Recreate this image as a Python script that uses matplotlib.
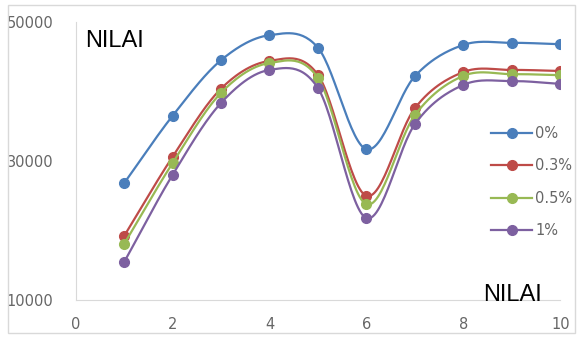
import numpy as np
import matplotlib
matplotlib.use("Agg")
import matplotlib.pyplot as plt
from matplotlib.patches import Rectangle

x = [1, 2, 3, 4, 5, 6, 7, 8, 9, 10]
s0 = [26800, 36500, 44500, 48100, 46300, 31700, 42200, 46700, 47000, 46800]
s03 = [19200, 30600, 40400, 44400, 42400, 25000, 37600, 42800, 43100, 42950]
s05 = [18050, 29700, 39800, 44100, 41950, 23800, 36600, 42250, 42500, 42350]
s1 = [15450, 28000, 38350, 43100, 40500, 21800, 35300, 40950, 41500, 41100]
labels = ["0%", "0.3%", "0.5%", "1%"]
colors = ["#4A7EBB", "#BE4B48", "#98B954", "#7D60A0"]


def smooth(xs, ys, n=30):
    # catmull-rom style smoothing like excel's "smoothed line"
    xs = np.asarray(xs, float)
    ys = np.asarray(ys, float)
    px = np.concatenate([[2 * xs[0] - xs[1]], xs, [2 * xs[-1] - xs[-2]]])
    py = np.concatenate([[2 * ys[0] - ys[1]], ys, [2 * ys[-1] - ys[-2]]])
    ox, oy = [], []
    t = np.linspace(0, 1, n)
    for i in range(1, len(px) - 2):
        for arr, out in ((px, ox), (py, oy)):
            p0, p1, p2, p3 = arr[i - 1], arr[i], arr[i + 1], arr[i + 2]
            out.extend(0.5 * ((2 * p1) + (-p0 + p2) * t
                              + (2 * p0 - 5 * p1 + 4 * p2 - p3) * t ** 2
                              + (-p0 + 3 * p1 - 3 * p2 + p3) * t ** 3))
    return ox, oy


fig = plt.figure(figsize=(5.77, 3.38), dpi=100)
ax = fig.add_axes([0.131, 0.112, 0.84, 0.823])

for ys, lab, c in zip([s0, s03, s05, s1], labels, colors):
    sx, sy = smooth(x, ys)
    ax.plot(sx, sy, color=c, lw=1.6)
    ax.plot(x, ys, "o", color=c, ms=7)
    ax.plot([], [], "-o", color=c, lw=1.6, ms=7, label=lab)

ax.set_xlim(0, 10)
ax.set_ylim(10000, 50000)
ax.set_xticks([0, 2, 4, 6, 8, 10])
ax.set_yticks([10000, 30000, 50000])
for sp in ["top", "right"]:
    ax.spines[sp].set_visible(False)
for sp in ["left", "bottom"]:
    ax.spines[sp].set_color("#D9D9D9")
ax.tick_params(length=0, labelsize=10.5, labelcolor="#666666")
ax.tick_params(axis="x", pad=12)
ax.tick_params(axis="y", pad=16)

fig.text(85 / 577, 1 - 41 / 338, "NILAI", fontsize=17, family="Liberation Sans", va="center")
fig.text(483 / 577, 1 - 295 / 338, "NILAI", fontsize=17, family="Liberation Sans", va="center")

fig.legend(loc="center left", bbox_to_anchor=(484 / 577, 1 - 182 / 338), frameon=False,
           borderpad=0, handlelength=2.8, handletextpad=0.2, labelspacing=1.2,
           fontsize=10.5, labelcolor="#666666")

fig.patches.append(Rectangle((8 / 577, 5 / 338), 1 - 10 / 577, 1 - 10 / 338,
                             transform=fig.transFigure, fill=False, ec="#D9D9D9", lw=1))

fig.savefig("out.png", dpi=100)
